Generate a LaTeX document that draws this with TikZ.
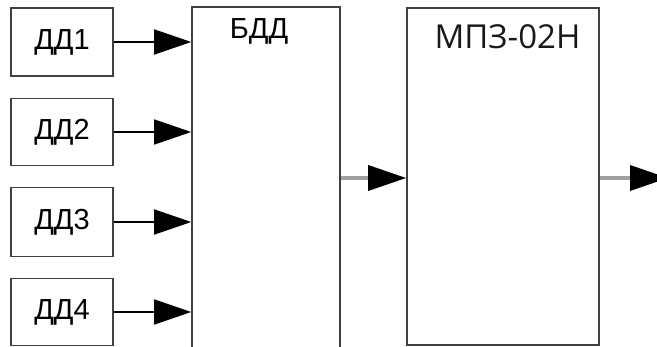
\documentclass[tikz,border=0pt]{standalone}
\usepackage{fontspec}
\newfontfamily\arfont{Liberation Sans}
\newfontfamily\osfont{Open Sans}
\usetikzlibrary{arrows.meta}
\definecolor{boxline}{HTML}{404040}
\definecolor{grayline}{HTML}{A0A0A0}
\tikzset{
  ddbox/.style={draw=boxline, line width=1.6pt, minimum width=102pt, inner sep=0pt, fill=white,
    font=\arfont\fontsize{29}{30}\selectfont},
  bigbox/.style={draw=boxline, line width=1.6pt, inner sep=0pt, fill=white},
  inarrow/.style={draw=black, line width=1.5pt, -{Triangle[length=37pt,width=25pt,fill=black,color=black]}},
  grayarrow/.style={draw=grayline, line width=3.5pt, -{Triangle[length=38pt,width=25pt,fill=black,color=black]}},
}
\begin{document}
\begin{tikzpicture}[x=1pt,y=-1pt]
\useasboundingbox (0,0) rectangle (657,347);
\clip (0,0) rectangle (657,347);
\fill[white] (0,0) rectangle (657,347);
\node[ddbox, minimum height=68pt] (dd1) at (62,42) {ДД1};
\node[ddbox, minimum height=67pt] (dd2) at (62,132) {ДД2};
\node[ddbox, minimum height=69pt] (dd3) at (62,222) {ДД3};
\node[ddbox, minimum height=67pt] (dd4) at (62,312) {ДД4};
\node[bigbox, minimum width=148pt, minimum height=348pt] (bdd) at (266,181) {};
\node[anchor=base, inner sep=0pt, font=\arfont\fontsize{29}{30}\selectfont] (bddl) at (259,39) {БДД};
\node[bigbox, minimum width=192pt, minimum height=337pt] (mpz) at (503,176.5) {};
\node[anchor=base, inner sep=0pt, text=black!90, font=\osfont\fontsize{33}{34}\selectfont] (mpzl) at (507.5,49) {МПЗ-02Н};
\coordinate (j) at (0,178);
\coordinate (out) at (668,178);
\draw[inarrow] (dd1.east) -- (dd1.east -| bdd.west);
\draw[inarrow] (dd2.east) -- (dd2.east -| bdd.west);
\draw[inarrow] (dd3.east) -- (dd3.east -| bdd.west);
\draw[inarrow] (dd4.east) -- (dd4.east -| bdd.west);
\draw[grayarrow] (bdd.east |- j) -- (mpz.west |- j);
\draw[grayarrow] (mpz.east |- j) -- (out);
\end{tikzpicture}
\end{document}
